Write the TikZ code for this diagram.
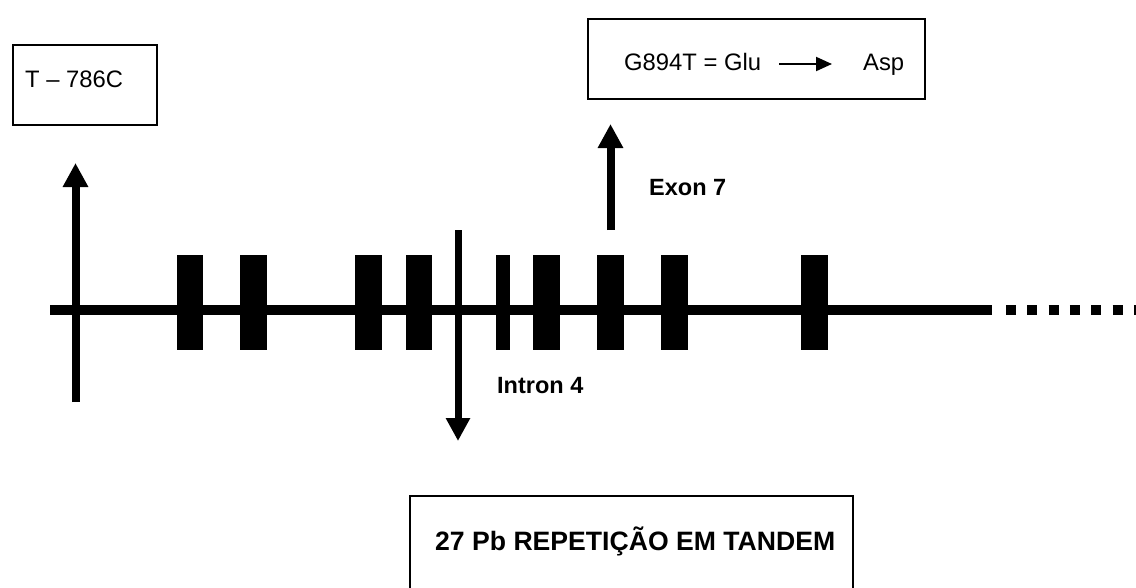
\documentclass[tikz,border=0pt]{standalone}
\usepackage{fontspec}
\setmainfont{Liberation Sans}
\usetikzlibrary{arrows.meta}
\begin{document}
\begin{tikzpicture}[x=1pt,y=-1pt,
  exonbox/.style={fill=black,draw=none,inner sep=0pt,minimum height=95pt},
  infobox/.style={draw=black,line width=2pt,inner sep=0pt,anchor=north west},
  txt/.style={inner sep=0pt,anchor=base west,font=\fontsize{23.8}{24}\selectfont},
  btxt/.style={inner sep=0pt,anchor=base west,font=\fontsize{23.5}{24}\selectfont\bfseries},
  bigarrow/.style={line width=8pt,-{Triangle[length=24pt,width=24pt]}},
  smallarrow/.style={line width=2pt,-{Triangle[length=16pt,width=14pt]}}]
\useasboundingbox[fill=white] (0,0) rectangle (1136,587);
% boxes
\node[infobox,minimum width=144.5pt,minimum height=80pt] (box1) at (11.5,44) {};
\node[infobox,minimum width=337pt,minimum height=80pt] (box2) at (587,18) {};
\begin{scope}
\clip (0,0) rectangle (1136,587);
\node[infobox,minimum width=443pt,minimum height=100pt] (box3) at (409,495) {};
\end{scope}
% box texts
\node[txt] (t1) at (25,87) {T – 786C};
\node[txt] (t2) at (624,70) {G894T = Glu};
\node[txt] (t3) at (863,70) {Asp};
\node[inner sep=0pt,anchor=base west,font=\fontsize{26.6}{27}\selectfont\bfseries] (t4) at (435,550) {27 Pb REPETIÇÃO EM TANDEM};
\coordinate (sa) at (779,64);
\coordinate (sb) at (832,64);
\draw[smallarrow] (sa) -- (sb);
% gene line
\coordinate (gs) at (50,310);
\coordinate (ge) at (992,310);
\draw[line width=10pt] (gs) -- (ge);
\coordinate (ds) at (1006,310);
\coordinate (de) at (1136,310);
\begin{scope}
\clip (0,0) rectangle (1136,587);
\draw[line width=10pt,dash pattern=on 10pt off 11.3pt] (ds) -- ++(20,0) -- (de) -- ++(14,0);
\end{scope}
% exons
\node[exonbox,minimum width=26pt] (e1) at (190,302.5) {};
\node[exonbox,minimum width=27pt] (e2) at (253.5,302.5) {};
\node[exonbox,minimum width=27pt] (e3) at (368.5,302.5) {};
\node[exonbox,minimum width=26pt] (e4) at (419,302.5) {};
\node[exonbox,minimum width=14pt] (e5) at (502.5,302.5) {};
\node[exonbox,minimum width=27pt] (e6) at (546.5,302.5) {};
\node[exonbox,minimum width=27pt] (e7) at (610.5,302.5) {};
\node[exonbox,minimum width=27pt] (e8) at (674.5,302.5) {};
\node[exonbox,minimum width=27pt] (e9) at (814.5,302.5) {};
% arrows
\coordinate (a1s) at (75.5,402);
\coordinate (a1e) at (75.5,163);
\draw[bigarrow] (a1s) -- (a1e);
\coordinate (a2s) at (458,230);
\coordinate (a2e) at (458,441);
\draw[line width=7pt,-{Triangle[length=23pt,width=23pt]}] (a2s) -- (a2e);
\coordinate (a3s) at (610.5,230);
\coordinate (a3e) at (610.5,124);
\draw[bigarrow] (a3s) -- (a3e);
% labels
\node[btxt] (l1) at (649,195) {Exon 7};
\node[btxt] (l2) at (497,393) {Intron 4};
\end{tikzpicture}
\end{document}
